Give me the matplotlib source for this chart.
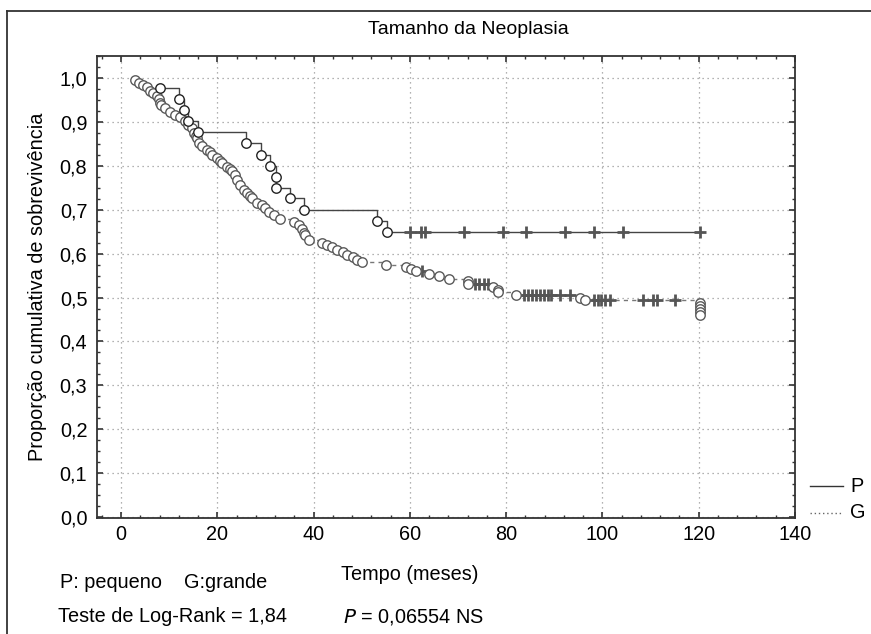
import matplotlib
matplotlib.use("Agg")
import matplotlib.pyplot as plt
from matplotlib.lines import Line2D
from matplotlib.ticker import MultipleLocator, FuncFormatter
import numpy as np

plt.rcParams["font.family"] = ["Liberation Sans", "DejaVu Sans"]
FS = 14.3

# grupo P (pequeno): tempos de obito e sobrevida acumulada
p_event_t = [8.0, 12.1, 13.1, 14.0, 16.0, 26.0, 29.0, 31.0, 32.1, 32.1, 35.1, 38.1, 53.1, 55.2]
p_event_s = [0.977, 0.951, 0.927, 0.901, 0.877, 0.851, 0.825, 0.800, 0.775, 0.750, 0.726, 0.700, 0.675, 0.650]
p_cens_t = [60.1, 62.3, 63.1, 71.3, 79.3, 84.2, 92.3, 98.2, 104.3, 120.3]

# grupo G (grande)
g_event_t = [2.9, 3.8, 4.6, 5.3, 6.0, 6.7, 7.4, 7.9, 8.1, 8.3, 9.2, 10.2, 11.2, 12.3, 13.3,
             14.0, 14.7, 15.1, 15.5, 15.8, 16.1, 16.8, 17.8, 18.4, 18.9, 19.9, 20.5, 21.0,
             22.0, 22.6, 23.1, 23.7, 24.1, 24.8, 25.5, 26.2, 26.7, 27.2, 28.3, 29.3, 30.0,
             30.7, 31.7, 33.1, 35.9, 36.9, 37.6, 38.0, 38.3, 39.0, 41.8, 42.8, 43.9, 44.9,
             46.0, 47.0, 48.1, 49.1, 50.1, 55.0, 59.2, 60.2, 61.3, 64.0, 66.1, 68.2, 72.0,
             72.1, 77.2, 78.3, 78.4, 82.1, 95.3, 96.3, 120.3, 120.3, 120.3, 120.3, 120.3]
g_event_s = [0.995, 0.989, 0.984, 0.979, 0.971, 0.965, 0.959, 0.951, 0.944, 0.938, 0.931, 0.923,
             0.916, 0.910, 0.903, 0.893, 0.885, 0.874, 0.868, 0.863, 0.853, 0.845, 0.837, 0.831,
             0.825, 0.817, 0.811, 0.806, 0.798, 0.792, 0.787, 0.779, 0.768, 0.756, 0.745, 0.737,
             0.731, 0.726, 0.716, 0.711, 0.703, 0.695, 0.688, 0.678, 0.673, 0.665, 0.655, 0.648,
             0.642, 0.632, 0.625, 0.620, 0.614, 0.608, 0.603, 0.597, 0.592, 0.585, 0.580, 0.574,
             0.569, 0.564, 0.560, 0.554, 0.549, 0.543, 0.537, 0.530, 0.524, 0.518, 0.512, 0.506,
             0.500, 0.494, 0.487, 0.481, 0.474, 0.467, 0.461]
g_cens_t = [62.5, 73.5, 74.4, 75.3, 76.2, 83.8, 84.6, 85.4, 86.2, 87.0, 87.8, 88.6, 89.4,
            91.1, 93.2, 98.2, 99.0, 99.8, 100.6, 101.5, 108.5, 110.6, 111.3, 115.1]

x_ticks = [0, 20, 40, 60, 80, 100, 120, 140]
y_ticks = [0.0, 0.1, 0.2, 0.3, 0.4, 0.5, 0.6, 0.7, 0.8, 0.9, 1.0]


def level_at(times, surv, t):
    idx = np.searchsorted(times, t, side="right") - 1
    return surv[idx] if idx >= 0 else 1.0


def draw_group(ax, ev_t, ev_s, cens_t, color, ls, mec):
    ev_t = np.asarray(ev_t)
    ev_s = np.asarray(ev_s)
    end_t = max(ev_t.max(), max(cens_t))
    line_t = np.append(ev_t, end_t)
    line_s = np.append(ev_s, ev_s[ev_t <= end_t][-1])
    ax.plot(line_t, line_s, drawstyle="steps-post", color=color, lw=1.0, ls=ls, zorder=2)
    cens_s = [level_at(ev_t, ev_s, t) for t in cens_t]
    ax.plot(cens_t, cens_s, ls="none", marker="+", ms=8, mew=2.0, color="#555555", zorder=3)
    ax.plot(ev_t, ev_s, ls="none", marker="o", ms=6.8, mfc="white", mec=mec, mew=1.0, zorder=4)


fig = plt.figure(figsize=(8.71, 6.34), dpi=100)
ax = fig.add_axes([97 / 871, 1 - 518 / 634, (795 - 97) / 871, (518 - 56) / 634])

draw_group(ax, g_event_t, g_event_s, g_cens_t, "#777777", (0, (3, 3)), "#5a5a5a")
draw_group(ax, p_event_t, p_event_s, p_cens_t, "#444444", "-", "#222222")

ax.set_xlim(-5, 140)
ax.set_ylim(-0.002, 1.05)
ax.set_xticks(x_ticks)
ax.set_yticks(y_ticks)
ax.xaxis.set_minor_locator(MultipleLocator(4))
ax.yaxis.set_minor_locator(MultipleLocator(0.025))
ax.yaxis.set_major_formatter(FuncFormatter(lambda v, p: f"{v:.1f}".replace(".", ",")))
ax.tick_params(which="both", direction="in", top=True, right=True, labelsize=FS, color="#333333")
ax.tick_params(which="major", length=4, width=1.2)
ax.tick_params(which="minor", length=2.5, width=1.0)
ax.tick_params(axis="x", pad=5)
ax.tick_params(axis="y", pad=7)
ax.grid(True, which="major", ls=(0, (1, 3)), color="#999999", lw=0.9)
for s in ax.spines.values():
    s.set_color("#333333")
    s.set_linewidth(1.3)

ax.set_ylabel("Proporção cumulativa de sobrevivência", fontsize=FS, labelpad=9)
fig.text(468 / 871, 1 - 30 / 634, "Tamanho da Neoplasia", fontsize=14, ha="center", va="center")
fig.text(410 / 871, 1 - 575 / 634, "Tempo (meses)", fontsize=FS, ha="center", va="center")
fig.text(60 / 871, 1 - 582 / 634, "P: pequeno    G:grande", fontsize=FS, ha="left", va="center")
fig.text(58 / 871, 1 - 617 / 634, "Teste de Log-Rank = 1,84", fontsize=FS, ha="left", va="center")
fig.text(343 / 871, 1 - 617 / 634, "$P$ = 0,06554 NS", fontsize=FS, ha="left", va="center")

# legenda a direita do grafico
leg_x0, leg_x1, leg_tx = 810 / 871, 843 / 871, 850 / 871
for y_px, label, ls, col in [(486, "P", "-", "#333333"), (513, "G", (0, (1, 2)), "#666666")]:
    yy = 1 - y_px / 634
    fig.add_artist(Line2D([leg_x0, leg_x1], [yy, yy], transform=fig.transFigure, color=col, lw=1.0, ls=ls))
    fig.text(leg_tx, yy, label, fontsize=FS, ha="left", va="center")

# marco da figura (borda esquerda e superior)
fig.add_artist(Line2D([7 / 871, 7 / 871], [0, 1 - 11 / 634], transform=fig.transFigure, color="#333333", lw=1.3))
fig.add_artist(Line2D([7 / 871, 1], [1 - 11 / 634, 1 - 11 / 634], transform=fig.transFigure, color="#333333", lw=1.3))

fig.savefig("out.png", dpi=100)
